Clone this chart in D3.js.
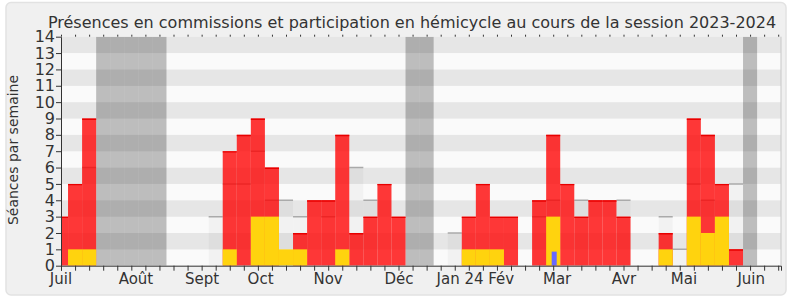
<!DOCTYPE html>
<html>
<head>
<meta charset="utf-8">
<script src="https://cdn.jsdelivr.net/npm/d3@7"></script>
<style>
body { margin: 0; background: #fff; }
text { font-family: "DejaVu Sans", Verdana, sans-serif; fill: #333; }
</style>
</head>
<body>
<div id="chart"></div>
<script>
// one value per week, week 0 = first week of July 2023
var hemicycle = [3,5,9,0,0,0,0,0,0,0,0,0,7,8,9,6,0,2,4,4,8,2,3,5,3,0,0,0,0,3,5,3,3,0,4,8,5,3,4,4,3,0,0,2,0,9,8,5,1,0,0,0];
var commission = [0,1,1,0,0,0,0,0,0,0,0,0,1,0,3,3,1,1,0,0,1,0,0,0,0,0,0,0,0,1,1,1,0,0,0,3,0,0,0,0,0,0,0,1,0,3,2,3,0,0,0,0];
var questions = [0,0,0,0,0,0,0,0,0,0,0,0,0,0,0,0,0,0,0,0,0,0,0,0,0,0,0,0,0,0,0,0,0,0,0,1,0,0,0,0,0,0,0,0,0,0,0,0,0,0,0,0];
var mediane = [0,0,6,0,0,0,0,0,0,0,0,3,5,5,7,4,4,3,0,3,0,6,4,0,0,0,0,0,2,0,0,0,0,0,3,4,0,4,0,0,4,0,0,3,1,5,4,0,5,0,0,0];
var vacances = [3,4,5,6,7,25,26,49];
var monthNames = ["Juil","Août","Sept","Oct","Nov","Déc","Jan 24","Fév","Mar","Avr","Mai","Juin"];
var monthPos = [0,5.33,10.03,14.19,18.99,24.04,28.38,31.3,35.28,40.04,44.3,49.08];
var yTicks = d3.range(0, 15);

var width = 790, height = 300;
var pLeft = 61, pRight = 781, pTop = 36.7, pBottom = 265.7;

var svg = d3.select("#chart").append("svg")
    .attr("width", width)
    .attr("height", height);

// frame
svg.append("rect")
    .attr("x", 6).attr("y", 2.5)
    .attr("width", 780).attr("height", 292.5)
    .attr("rx", 5)
    .style("fill", "#f0f0f0")
    .style("stroke", "#e2e2e2")
    .style("stroke-width", 1.5);

var weeks = d3.range(hemicycle.length);
var x = d3.scaleLinear().domain([0, 51.2]).range([pLeft, pRight]);
var y = d3.scaleLinear().domain([0, 14]).range([pBottom, pTop]);

var plot = svg.append("g");
plot.append("clipPath").attr("id", "clip")
    .append("rect")
    .attr("x", pLeft).attr("y", pTop)
    .attr("width", pRight - pLeft).attr("height", pBottom - pTop);

var g = plot.append("g").attr("clip-path", "url(#clip)");

function weekX(d) { return x(d - 0.5); }
function weekW(d) { return x(d + 0.5) - x(d - 0.5); }

// stripes
g.selectAll("rect.stripe")
    .data(d3.range(0, 14))
    .enter().append("rect")
    .attr("class", "stripe")
    .attr("x", pLeft)
    .attr("width", pRight - pLeft)
    .attr("y", function (d) { return y(d + 1); })
    .attr("height", function (d) { return y(d) - y(d + 1); })
    .style("fill", function (d) { return d % 2 ? "#e6e6e6" : "#fafafa"; });

// holidays
g.selectAll("rect.vac")
    .data(vacances)
    .enter().append("rect")
    .attr("class", "vac")
    .attr("x", weekX)
    .attr("width", weekW)
    .attr("y", pTop)
    .attr("height", pBottom - pTop)
    .style("fill", "#000")
    .style("fill-opacity", 0.245);

// median column
var med = weeks.filter(function (i) { return mediane[i] > 0; });
g.selectAll("rect.med")
    .data(med)
    .enter().append("rect")
    .attr("class", "med")
    .attr("x", weekX)
    .attr("width", weekW)
    .attr("y", function (d) { return y(mediane[d]); })
    .attr("height", function (d) { return pBottom - y(mediane[d]); })
    .style("fill", "#000")
    .style("fill-opacity", 0.03);
g.selectAll("line.med")
    .data(med)
    .enter().append("line")
    .attr("class", "med")
    .attr("x1", weekX)
    .attr("x2", function (d) { return x(d + 0.5); })
    .attr("y1", function (d) { return y(mediane[d]); })
    .attr("y2", function (d) { return y(mediane[d]); })
    .style("stroke", "#aaa")
    .style("stroke-width", 1.5);

// hemicycle
var hem = weeks.filter(function (i) { return hemicycle[i] > 0; });
g.selectAll("rect.hem")
    .data(hem)
    .enter().append("rect")
    .attr("class", "hem")
    .attr("x", weekX)
    .attr("width", weekW)
    .attr("y", function (d) { return y(hemicycle[d]); })
    .attr("height", function (d) { return pBottom - y(hemicycle[d]); })
    .style("fill", "#ff0000")
    .style("fill-opacity", 0.78);
g.selectAll("line.hem")
    .data(hem)
    .enter().append("line")
    .attr("class", "hem")
    .attr("x1", weekX)
    .attr("x2", function (d) { return x(d + 0.5); })
    .attr("y1", function (d) { return y(hemicycle[d]) + 0.7; })
    .attr("y2", function (d) { return y(hemicycle[d]) + 0.7; })
    .style("stroke", "#e80000")
    .style("stroke-width", 1.4);

// commissions
var com = weeks.filter(function (i) { return commission[i] > 0; });
g.selectAll("rect.com")
    .data(com)
    .enter().append("rect")
    .attr("class", "com")
    .attr("x", weekX)
    .attr("width", weekW)
    .attr("y", function (d) { return y(commission[d]); })
    .attr("height", function (d) { return pBottom - y(commission[d]); })
    .style("fill", "#ffd30e");

// questions
var qst = weeks.filter(function (i) { return questions[i] > 0; });
g.selectAll("rect.qst")
    .data(qst)
    .enter().append("rect")
    .attr("class", "qst")
    .attr("x", function (d) { return x(d) - 1.5; })
    .attr("width", 5)
    .attr("y", function (d) { return y(questions[d] * 0.86); })
    .attr("height", function (d) { return pBottom - y(questions[d] * 0.86); })
    .style("fill", "#6868ff");

// right border
plot.append("line")
    .attr("x1", pRight).attr("x2", pRight)
    .attr("y1", pTop).attr("y2", pBottom)
    .style("stroke", "#c8c8c8");

// axes
var yAxis = plot.append("g")
    .attr("transform", "translate(" + pLeft + ",0)")
    .call(d3.axisLeft(y).tickValues(yTicks).tickSize(5).tickPadding(1).tickSizeOuter(0));
yAxis.selectAll("text").style("font-size", "16px");

var xAxis = plot.append("g")
    .attr("transform", "translate(0," + pBottom + ")")
    .call(d3.axisBottom(x).tickValues(weeks).tickFormat("").tickSize(5).tickSizeOuter(5));

var topAxis = plot.append("g")
    .attr("transform", "translate(0," + pTop + ")")
    .call(d3.axisTop(x).tickValues(weeks).tickFormat("").tickSize(2).tickSizeOuter(0));
topAxis.select(".domain").remove();

[yAxis, xAxis, topAxis].forEach(function (a) {
    a.selectAll("line, path").style("stroke", "#333");
});

plot.append("g").selectAll("text")
    .data(monthNames)
    .enter().append("text")
    .attr("x", function (d, i) { return x(monthPos[i]); })
    .attr("y", 284)
    .attr("text-anchor", "middle")
    .style("font-size", "15px")
    .text(function (d) { return d; });

// titles
svg.append("text")
    .attr("x", 412)
    .attr("y", 28)
    .attr("text-anchor", "middle")
    .style("font-size", "16px")
    .text("Présences en commissions et participation en hémicycle au cours de la session 2023-2024");

svg.append("text")
    .attr("transform", "translate(17.5,150) rotate(-90)")
    .attr("text-anchor", "middle")
    .style("font-size", "14px")
    .text("Séances par semaine");
</script>
</body>
</html>
